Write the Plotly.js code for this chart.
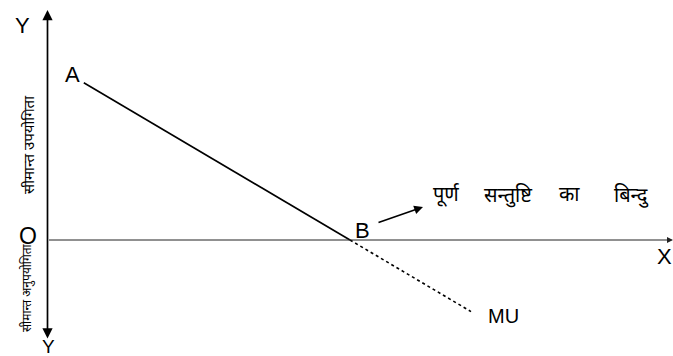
<!DOCTYPE html>
<html>
<head>
<meta charset="utf-8">
<script src="https://cdn.plot.ly/plotly-3.0.1.min.js"></script>
<style>html,body{margin:0;padding:0;background:#fff;}#chart{width:673px;height:356px;}</style>
</head>
<body>
<div id="chart"></div>
<script>
// Marginal utility schedule (quantity vs marginal utility)
const quantity = [0.6, 5];          // A -> B (positive MU)
const marginalUtility = [10, 0];
const quantityNeg = [5, 7];         // B -> MU (negative MU, dotted)
const marginalUtilityNeg = [0, -4.55];
const pointLabels = ['A', 'B', 'MU'];
const yAxisLabelUp = 'सीमान्त उपयोगिता';
const yAxisLabelDown = 'सीमान्त अनुपयोगिता';
const satietyLabel = 'पूर्ण सन्तुष्टि का बिन्दु';

// pixel helpers (for placing label annotations only)
const OX = 47.5, OY = 240, SX = 60.5, SY = 15.73;
const X = p => (p - OX) / SX;
const Y = p => (OY - p) / SY;

const latin = 'Liberation Sans, Arial, sans-serif';
const deva = 'Noto Sans Devanagari, Lohit Devanagari, FreeSerif, Mangal, sans-serif';

const traces = [
  {x: quantity, y: marginalUtility, mode: 'lines', line: {color: '#000', width: 1.6}, hoverinfo: 'skip'},
  {x: quantityNeg, y: marginalUtilityNeg, mode: 'lines', line: {color: '#000', width: 1.6, dash: 'dot'}, hoverinfo: 'skip'}
];

const ann = [];
// Y axis (double-headed)
ann.push({x: 0, y: Y(10), ax: 0, ay: Y(340), xref: 'x', yref: 'y', axref: 'x', ayref: 'y',
  text: '', showarrow: true, arrowhead: 2, startarrowhead: 2, arrowside: 'end+start', arrowsize: 1.2, arrowwidth: 1.7, arrowcolor: '#000', standoff: 0, startstandoff: 0});
// X axis
ann.push({x: X(673), y: 0, ax: 0, ay: 0, xref: 'x', yref: 'y', axref: 'x', ayref: 'y',
  text: '', showarrow: true, arrowhead: 2, arrowsize: 1.2, arrowwidth: 1, arrowcolor: '#222', standoff: 0});
// pointer arrow to satiety label
ann.push({x: X(423), y: Y(207), ax: X(377), ay: Y(223), xref: 'x', yref: 'y', axref: 'x', ayref: 'y',
  text: '', showarrow: true, arrowhead: 2, arrowsize: 1.1, arrowwidth: 1.6, arrowcolor: '#000', standoff: 0});

function lab(t, px, py, size, fam, angle) {
  ann.push({x: X(px), y: Y(py), xref: 'x', yref: 'y', text: t, showarrow: false,
    font: {family: fam || latin, size: size, color: '#000'}, textangle: angle || 0,
    xanchor: 'center', yanchor: 'middle'});
}
lab('Y', 22, 25, 22);
lab('Y', 48, 346, 19);
lab('O', 28, 236, 23);
lab('X', 664, 256, 22);
lab(pointLabels[0], 72, 74, 22);
lab(pointLabels[1], 362, 230, 22);
lab(pointLabels[2], 503, 316, 20);
// satiety label: words spaced as in the reference
const words = satietyLabel.split(' ');
const wordCenters = [446, 508, 569, 631];
words.forEach((w, i) => lab(w, wordCenters[i], 196, 20, deva));
lab(yAxisLabelUp, 30, 145, 15, deva, -90);
lab(yAxisLabelDown, 27, 288, 12, deva, -90);

const layout = {
  width: 673, height: 356,
  margin: {l: 0, r: 0, t: 0, b: 0},
  paper_bgcolor: '#fff', plot_bgcolor: '#fff',
  showlegend: false,
  xaxis: {range: [X(0), X(673)], visible: false, fixedrange: true},
  yaxis: {range: [Y(356), Y(0)], visible: false, fixedrange: true},
  annotations: ann
};
Plotly.newPlot('chart', traces, layout, {staticPlot: true});
</script>
</body>
</html>
